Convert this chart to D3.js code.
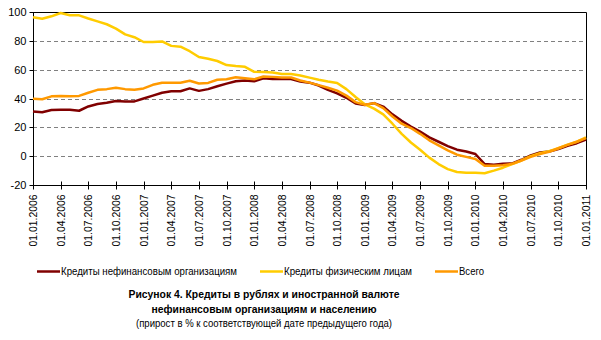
<!DOCTYPE html>
<html>
<head>
<meta charset="utf-8">
<script src="https://cdn.jsdelivr.net/npm/d3@7"></script>
<style>
  html, body { margin: 0; padding: 0; background: #fff; }
  svg { display: block; font-family: "Liberation Sans", Arial, sans-serif; }
</style>
</head>
<body>
<svg id="chart" width="601" height="340"></svg>
<script>
// Year-on-year growth of loans (%), monthly, 01.2006 – 01.2011
const corporate = [31, 30.5, 32, 32.2, 32.2, 31.5, 34.5, 36.2, 37, 38.3, 38, 38,
  40, 42, 44, 45, 45, 47, 45.3, 46.5, 48.5, 50.3, 52, 52.5,
  52, 54, 53.5, 53.5, 53.5, 51.8, 51, 49, 46, 43.5, 40.5, 36.5,
  35.5, 36.8, 34.4, 29, 24.5, 20.5, 17, 13, 10, 7, 4.5, 3.2,
  1.5, -5.5, -6, -5.3, -5, -2.5, 0.5, 2.5, 3.2, 5, 7.2, 9, 11.5];
const households = [96.3, 95.3, 97, 99.3, 97.7, 97.7, 95.5, 93.5, 91.5, 88.5, 84.5, 82.5,
  79.2, 79.2, 79.6, 76.5, 75.9, 72.8, 68.8, 67.6, 66, 63.2, 62.5, 62,
  58.5, 58.3, 58, 57, 57, 56, 54.5, 53, 51.8, 50.8, 46.5, 41,
  36, 33, 29, 22.5, 15.5, 9.5, 4.5, -1, -5.5, -9, -11, -11.5,
  -11.5, -11.8, -10, -8, -5.5, -3, 0, 2, 3.5, 5.5, 8, 10, 13];
const total = [39.8, 39.5, 41.5, 41.8, 41.6, 41.8, 44, 46, 46.5, 47.5, 46.5, 46,
  47, 49.5, 50.9, 50.9, 50.9, 52.3, 50.4, 50.8, 53, 53.3, 54.8, 54,
  53.3, 55.3, 55, 54.6, 54.6, 52.5, 51, 49.3, 47.5, 45.5, 42, 37.5,
  35.6, 36.8, 33.3, 27.5, 22.5, 19.5, 15.5, 11, 7.5, 4, 1, -0.5,
  -2, -6.7, -6.7, -6.3, -5.3, -3, -0.5, 1.5, 3, 5.5, 7.8, 10, 12.5];

const dateTicks = ["01.01.2006", "01.04.2006", "01.07.2006", "01.10.2006",
  "01.01.2007", "01.04.2007", "01.07.2007", "01.10.2007",
  "01.01.2008", "01.04.2008", "01.07.2008", "01.10.2008",
  "01.01.2009", "01.04.2009", "01.07.2009", "01.10.2009",
  "01.01.2010", "01.04.2010", "01.07.2010", "01.10.2010", "01.01.2011"];
const yTicks = [-20, 0, 20, 40, 60, 80, 100];

const seriesNames = ["Кредиты нефинансовым организациям", "Кредиты физическим лицам", "Всего"];
const seriesColors = ["#800000", "#FFCC00", "#FF9900"];

const svg = d3.select("#chart");
const plotLeft = 33, plotRight = 586, plotTop = 12, plotBottom = 185;

const x = d3.scaleLinear().domain([0, corporate.length - 1]).range([plotLeft, plotRight]);
const y = d3.scaleLinear().domain([-20, 100]).range([plotBottom, plotTop]);
const py = v => Math.round(y(v)) + 0.5;

// dashed gridlines
svg.append("g").selectAll("line")
  .data(yTicks.filter(v => v > -20 && v < 100))
  .join("line")
  .attr("x1", plotLeft).attr("x2", plotRight)
  .attr("y1", py).attr("y2", py)
  .attr("stroke", "#808080").attr("stroke-dasharray", "4,3").attr("stroke-width", 1);

// plot frame: top and right edges
svg.append("path")
  .attr("d", `M${plotLeft},${py(100)}H${plotRight + 0.5}V${py(-20)}`)
  .attr("fill", "none").attr("stroke", "#000").attr("stroke-width", 1);

// y axis
const yAxis = svg.append("g").attr("transform", `translate(${plotLeft + 0.5},0)`);
yAxis.append("line").attr("y1", py(100)).attr("y2", py(-20)).attr("stroke", "#000");
yAxis.selectAll("line.tick").data(yTicks).join("line").attr("class", "tick")
  .attr("x1", -4).attr("x2", 0).attr("y1", py).attr("y2", py).attr("stroke", "#000");
yAxis.selectAll("text").data(yTicks).join("text")
  .attr("x", -7).attr("y", d => py(d))
  .attr("dy", "0.35em").attr("text-anchor", "end")
  .attr("font-size", 11).attr("fill", "#000")
  .text(d => d);

// x axis
const xTickIdx = dateTicks.map((d, i) => i * 3);
const xAxis = svg.append("g").attr("transform", `translate(0,${py(-20)})`);
xAxis.append("line").attr("x1", plotLeft).attr("x2", plotRight + 0.5).attr("stroke", "#000");
xAxis.selectAll("line.tick").data(xTickIdx).join("line").attr("class", "tick")
  .attr("x1", d => Math.round(x(d)) + 0.5).attr("x2", d => Math.round(x(d)) + 0.5)
  .attr("y1", -4).attr("y2", 4).attr("stroke", "#000");
xAxis.selectAll("text").data(dateTicks).join("text")
  .attr("transform", (d, i) => `translate(${x(i * 3) + 4},${9}) rotate(-90)`)
  .attr("text-anchor", "end")
  .attr("font-size", 11).attr("fill", "#000")
  .attr("textLength", 52).attr("lengthAdjust", "spacingAndGlyphs")
  .text(d => d);

// series lines
const line = d3.line().x((d, i) => x(i)).y(d => y(d));
[corporate, households, total].forEach((s, k) => {
  svg.append("path").datum(s)
    .attr("d", line)
    .attr("fill", "none")
    .attr("stroke", seriesColors[k])
    .attr("stroke-width", 2.5)
    .attr("stroke-linejoin", "round");
});

// legend
const legendX = [37, 260, 435];
const legendTextWidth = [176, 128, 25];
const legend = svg.append("g").attr("transform", "translate(0,271)");
seriesNames.forEach((name, k) => {
  legend.append("line")
    .attr("x1", legendX[k]).attr("x2", legendX[k] + 23)
    .attr("y1", 0.5).attr("y2", 0.5)
    .attr("stroke", seriesColors[k]).attr("stroke-width", 2.5);
  legend.append("text")
    .attr("x", legendX[k] + 24).attr("y", 0).attr("dy", "0.35em")
    .attr("font-size", 11).attr("fill", "#000")
    .attr("textLength", legendTextWidth[k]).attr("lengthAdjust", "spacingAndGlyphs")
    .text(name);
});

// caption
const cap = svg.append("g").attr("text-anchor", "middle").attr("fill", "#000");
cap.append("text").attr("x", 264).attr("y", 294).attr("dy", "0.35em")
  .attr("font-size", 11).attr("font-weight", "bold")
  .attr("textLength", 271).attr("lengthAdjust", "spacingAndGlyphs")
  .text("Рисунок 4. Кредиты в рублях и иностранной валюте");
cap.append("text").attr("x", 264).attr("y", 309).attr("dy", "0.35em")
  .attr("font-size", 11).attr("font-weight", "bold")
  .attr("textLength", 225).attr("lengthAdjust", "spacingAndGlyphs")
  .text("нефинансовым организациям и населению");
cap.append("text").attr("x", 264).attr("y", 323).attr("dy", "0.35em")
  .attr("font-size", 11)
  .attr("textLength", 256).attr("lengthAdjust", "spacingAndGlyphs")
  .text("(прирост в % к соответствующей дате предыдущего года)");
</script>
</body>
</html>
